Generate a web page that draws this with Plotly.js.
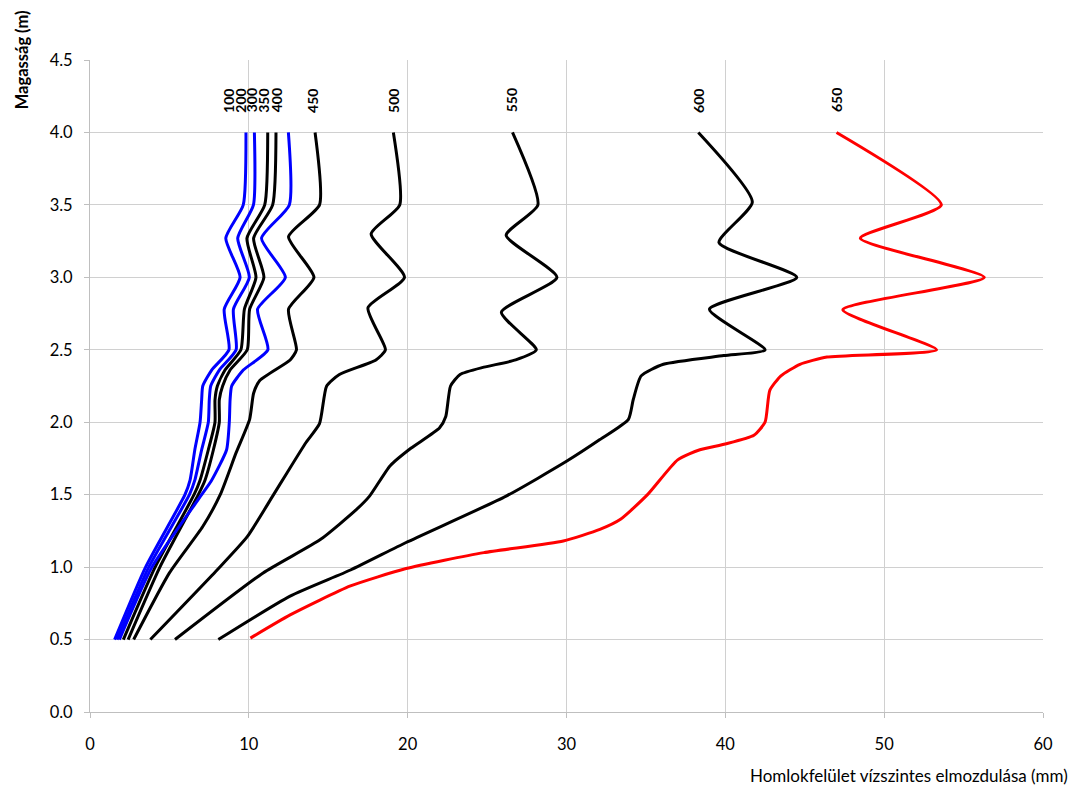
<!DOCTYPE html>
<html>
<head>
<meta charset="utf-8">
<script src="https://cdn.plot.ly/plotly-3.0.1.min.js"></script>
<style>html,body{margin:0;padding:0;background:#fff;}#chart{width:1080px;height:796px;}</style>
</head>
<body>
<div id="chart"></div>
<script>
// Series names (load levels)
const seriesNames = ['100', '200', '300', '350', '400', '450', '500', '550', '600', '650'];
const seriesColors = ['#0000ff', '#0000ff', '#000000', '#000000', '#0000ff', '#000000', '#000000', '#000000', '#000000', '#ff0000'];

// Heights (m) and horizontal displacement (mm) per series
const hBundle = [0.5, 1.0, 1.5, 1.6, 1.81, 2.0, 2.155, 2.25, 2.36, 2.5, 2.78, 3.0, 3.27, 3.5, 4.0];
const d100 = [1.55, 3.5, 5.98, 6.3, 6.6, 6.93, 7.03, 7.1, 7.66, 8.75, 8.45, 9.45, 8.55, 9.65, 9.82];
const d200 = [1.7, 3.7, 6.26, 6.6, 7.03, 7.45, 7.51, 7.6, 8.14, 9.2, 9.03, 10.03, 9.3, 10.29, 10.35];
const d300 = [2.1, 4.1, 6.55, 6.93, 7.45, 7.87, 7.87, 8.02, 8.5, 9.5, 9.72, 10.45, 9.88, 11.0, 11.19];
const d350 = [2.4, 4.4, 6.82, 7.24, 7.77, 8.14, 8.14, 8.35, 8.82, 9.9, 10.05, 10.95, 10.3, 11.5, 11.71];
const d400 = [1.85, 3.9, 7.03, 7.66, 8.6, 8.77, 8.82, 8.92, 9.65, 11.2, 10.55, 12.3, 10.8, 12.55, 12.49];

const h450 = [0.5, 0.96, 1.28, 1.5, 1.79, 2.02, 2.2, 2.29, 2.43, 2.5, 2.78, 3.0, 3.28, 3.5, 4.0];
const d450 = [2.75, 5.0, 7.1, 8.2, 9.2, 10.05, 10.3, 10.7, 12.6, 13.0, 12.5, 14.1, 12.5, 14.45, 14.17];

const h500 = [0.5, 0.98, 1.21, 1.49, 1.65, 1.86, 1.99, 2.25, 2.33, 2.43, 2.5, 2.79, 3.0, 3.30, 3.5, 4.0];
const d500 = [3.8, 8.0, 9.9, 11.5, 12.4, 13.6, 14.45, 14.9, 15.7, 18.0, 18.6, 17.5, 19.8, 17.7, 19.5, 19.1];

const h550 = [0.5, 0.96, 1.19, 1.40, 1.49, 1.70, 1.82, 1.96, 2.04, 2.25, 2.33, 2.38, 2.43, 2.5, 2.76, 3.0, 3.29, 3.5, 4.0];
const d550 = [5.35, 10.9, 14.5, 16.8, 17.6, 18.9, 20.2, 22.0, 22.4, 22.7, 23.3, 24.8, 26.8, 28.1, 25.9, 29.4, 26.2, 28.2, 26.6];

const h600 = [0.5, 0.80, 0.98, 1.17, 1.49, 1.73, 1.88, 2.02, 2.155, 2.32, 2.40, 2.46, 2.5, 2.78, 3.0, 3.24, 3.52, 4.0];
const d600 = [8.08, 12.6, 16.4, 19.9, 26.2, 30.0, 32.1, 33.9, 34.2, 34.7, 36.1, 39.9, 42.5, 39.0, 44.5, 39.6, 41.7, 38.3];

const h650 = [0.51, 0.67, 0.87, 0.99, 1.10, 1.18, 1.26, 1.33, 1.50, 1.74, 1.81, 1.85, 1.91, 2.0, 2.22, 2.32, 2.40, 2.45, 2.5, 2.776, 3.0, 3.27, 3.5, 4.0];
const d650 = [10.1, 12.6, 16.4, 19.9, 24.8, 29.8, 32.1, 33.4, 35.1, 37.0, 38.4, 40.0, 41.8, 42.5, 42.8, 43.5, 44.7, 46.4, 53.3, 47.4, 56.3, 48.5, 53.6, 47.0];

const seriesH = [hBundle, hBundle, hBundle, hBundle, hBundle, h450, h500, h550, h600, h650];
const seriesD = [d100, d200, d300, d350, d400, d450, d500, d550, d600, d650];

// Series label positions along the displacement axis (labels sit above the curves)
const labelX = [8.71, 9.45, 10.18, 10.91, 11.76, 14.0, 19.1, 26.55, 38.3, 47.0];
const labelY = 4.22;

const xTitle = 'Homlokfelület vízszintes elmozdulása (mm)';
const yTitle = 'Magasság (m)';

const FONT = 'Lato, "Open Sans", "DejaVu Sans", sans-serif';

const traces = seriesNames.map((name, i) => ({
  type: 'scatter',
  mode: 'lines',
  name: name,
  x: seriesD[i],
  y: seriesH[i],
  line: {color: seriesColors[i], width: 3, shape: 'spline', smoothing: 0.55},
  showlegend: false,
  hoverinfo: 'x+y+name'
}));

const annotations = seriesNames.map((name, i) => ({
  text: name,
  x: labelX[i],
  y: labelY,
  xref: 'x',
  yref: 'y',
  showarrow: false,
  textangle: -90,
  xanchor: 'center',
  yanchor: 'middle',
  font: {family: FONT, size: 14, color: '#000', weight: 'bold'}
}));

annotations.push({
  text: yTitle,
  xref: 'paper', yref: 'paper',
  x: -0.071, y: 1.0,
  xanchor: 'center', yanchor: 'middle',
  textangle: -90,
  showarrow: false,
  font: {family: FONT, size: 16.5, color: '#000', weight: 'bold'}
});
annotations.push({
  text: xTitle,
  xref: 'paper', yref: 'paper',
  x: 1.028, y: -0.097,
  xanchor: 'right', yanchor: 'middle',
  showarrow: false,
  font: {family: FONT, size: 17, color: '#000'}
});

const layout = {
  width: 1080,
  height: 796,
  margin: {l: 90, r: 37, t: 60, b: 84},
  paper_bgcolor: '#ffffff',
  plot_bgcolor: '#ffffff',
  showlegend: false,
  font: {family: FONT, color: '#000'},
  xaxis: {
    range: [0, 60],
    dtick: 10,
    tick0: 0,
    showgrid: true,
    gridcolor: '#d0d0d0',
    gridwidth: 1,
    zeroline: false,
    showline: true,
    linecolor: '#bfbfbf',
    linewidth: 1,
    ticks: 'outside',
    ticklen: 5,
    tickcolor: '#bfbfbf',
    ticklabelstandoff: 12,
    tickfont: {family: FONT, size: 16.5, color: '#000'}
  },
  yaxis: {
    range: [0, 4.5],
    dtick: 0.5,
    tick0: 0,
    tickformat: '.1f',
    showgrid: true,
    gridcolor: '#d0d0d0',
    gridwidth: 1,
    zeroline: false,
    showline: true,
    linecolor: '#bfbfbf',
    linewidth: 1,
    ticks: 'outside',
    ticklen: 5,
    tickcolor: '#bfbfbf',
    ticklabelstandoff: 8,
    tickfont: {family: FONT, size: 16.5, color: '#000'}
  },
  annotations: annotations
};

Plotly.newPlot('chart', traces, layout, {displayModeBar: false, staticPlot: true});
</script>
</body>
</html>
